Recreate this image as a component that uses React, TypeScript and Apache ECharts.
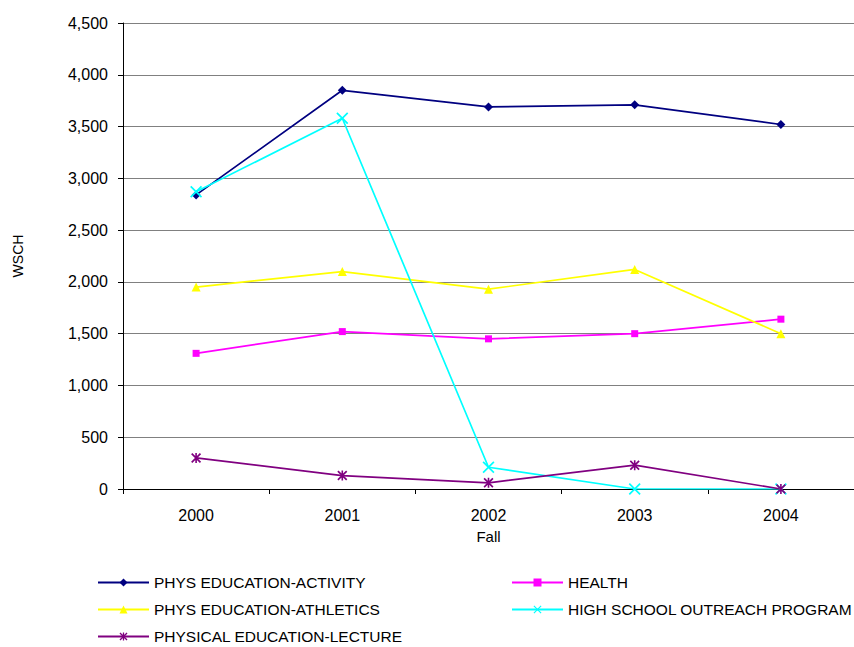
import React, { useEffect, useRef } from "react";
import * as echarts from "echarts";

const years = ["2000", "2001", "2002", "2003", "2004"];
const activity = [2840, 3850, 3690, 3710, 3520];
const health = [1310, 1520, 1450, 1500, 1640];
const athletics = [1950, 2100, 1930, 2120, 1500];
const outreach = [2870, 3580, 210, 0, 0];
const lecture = [300, 130, 60, 230, 0];

const N_ACT = "PHYS EDUCATION-ACTIVITY";
const N_HEALTH = "HEALTH";
const N_ATH = "PHYS EDUCATION-ATHLETICS";
const N_OUT = "HIGH SCHOOL OUTREACH PROGRAM";
const N_LEC = "PHYSICAL EDUCATION-LECTURE";

const X_PATH = "path://M0,1 L1,0 L10,9 L9,10 Z M9,0 L10,1 L1,10 L0,9 Z";
const STAR_PATH =
  "path://M0,1.2 L1.2,0 L10,8.8 L8.8,10 Z M8.8,0 L10,1.2 L1.2,10 L0,8.8 Z M4.2,0 L5.8,0 L5.8,10 L4.2,10 Z";

const FONT = "'Liberation Sans', Arial, sans-serif";

export default function App() {
  const ref = useRef<HTMLDivElement>(null);
  useEffect(() => {
    if (!ref.current) return;
    const chart = echarts.init(ref.current, undefined, { renderer: "svg" });
    const mk = (name: string, data: number[], color: string, symbol: string, size: number) => ({
      name,
      type: "line",
      data,
      symbol,
      symbolSize: size,
      showSymbol: true,
      lineStyle: { color, width: 1.7 },
      itemStyle: { color },
      emphasis: { disabled: true },
    });
    const legendBase = {
      orient: "vertical",
      top: 569,
      height: 80,
      padding: 5,
      itemWidth: 51,
      itemHeight: 10,
      itemGap: 10,
      textStyle: { fontSize: 15.5, color: "#000", fontFamily: FONT, lineHeight: 17 },
      selectedMode: false,
    };
    chart.setOption({
      animation: false,
      textStyle: { fontFamily: FONT },
      grid: { left: 123, top: 23, width: 732, height: 466, containLabel: false },
      xAxis: {
        type: "category",
        data: years,
        boundaryGap: true,
        name: "Fall",
        nameLocation: "middle",
        nameGap: 40,
        nameTextStyle: { fontSize: 15, color: "#000", fontFamily: FONT },
        axisLine: { lineStyle: { color: "#000", width: 1 } },
        axisTick: { show: true, length: 5, inside: false, lineStyle: { color: "#000" } },
        axisLabel: { fontSize: 16, color: "#000", margin: 18, fontFamily: FONT },
        splitLine: { show: false },
      },
      yAxis: {
        type: "value",
        min: 0,
        max: 4500,
        interval: 500,
        name: "WSCH",
        nameLocation: "middle",
        nameGap: 98,
        nameTextStyle: { fontSize: 14, color: "#000", fontFamily: FONT },
        axisLine: { show: true, lineStyle: { color: "#000", width: 1 } },
        axisTick: { show: true, length: 5, lineStyle: { color: "#000" } },
        axisLabel: {
          fontSize: 16,
          color: "#000",
          margin: 15,
          fontFamily: FONT,
          formatter: (v: number) => v.toLocaleString("en-US"),
        },
        splitLine: { show: true, lineStyle: { color: "#808080", width: 1 } },
      },
      legend: [
        { ...legendBase, left: 92, data: [N_ACT, N_ATH, N_LEC] },
        { ...legendBase, left: 506, data: [N_HEALTH, N_OUT] },
      ],
      series: [
        mk(N_ACT, activity, "#000080", "diamond", 9),
        mk(N_HEALTH, health, "#FF00FF", "rect", 7),
        mk(N_ATH, athletics, "#FFFF00", "triangle", 9),
        mk(N_OUT, outreach, "#00FFFF", X_PATH, 12),
        mk(N_LEC, lecture, "#800080", STAR_PATH, 10),
      ],
    });
    return () => chart.dispose();
  }, []);
  return <div ref={ref} style={{ width: 854, height: 647, position: "absolute", left: 0, top: 0 }} />;
}
